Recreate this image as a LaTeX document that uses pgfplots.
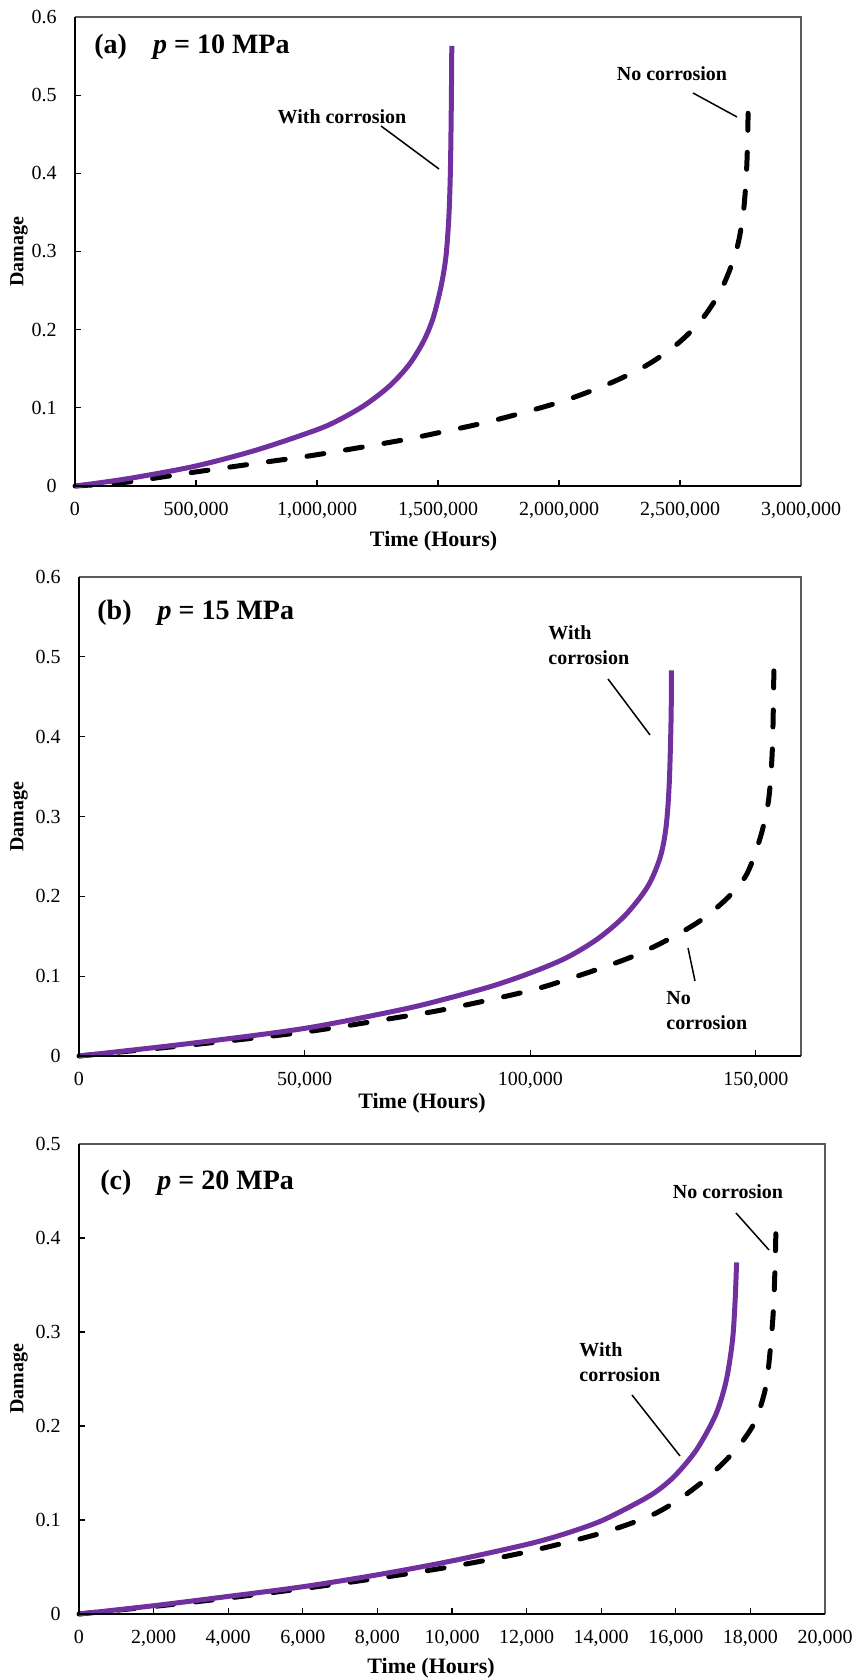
\documentclass[border=0pt]{standalone}
\usepackage{fontspec}
\setmainfont{Liberation Serif}
\usepackage{pgfplots}
\pgfplotsset{compat=1.18}
\definecolor{corr}{RGB}{112,48,160}
\definecolor{bord}{RGB}{90,90,90}
\pgfplotsset{
  dmg/.style={
    scale only axis,
    clip=false,
    tick align=inside,
    xtick pos=bottom, ytick pos=left,
    major tick length=3pt,
    tick style={black, line width=0.6pt},
    axis line style={draw=none},
    ticklabel style={font=\fontsize{10}{12}\selectfont},
    /pgf/number format/assume math mode=true,
    scaled x ticks=false, scaled y ticks=false,
    x tick label style={/pgf/number format/fixed, /pgf/number format/1000 sep={,}},
    y tick label style={/pgf/number format/fixed},
    yticklabel style={xshift=-5.7pt},
    xticklabel style={yshift=-4.8pt},
    ylabel style={font=\fontsize{10}{12}\selectfont\bfseries},
    xlabel style={font=\fontsize{11}{13}\selectfont\bfseries},
    ymin=0,
  },
}
\tikzset{
  wc/.style={corr, line width=2.5pt, line join=round, smooth, tension=0.5},
  nc/.style={black, line width=2.5pt, line cap=round, line join=round, dash pattern=on 8.5pt off 11pt, smooth, tension=0.5},
  lead/.style={black, line width=0.75pt},
  ann/.style={font=\fontsize{10}{12}\selectfont\bfseries, inner sep=0pt},
}
\newcommand{\axbox}{%
  \draw[bord, line width=0.6pt] (rel axis cs:0,1) -- (rel axis cs:1,1) -- (rel axis cs:1,0);
  \draw[black, line width=0.75pt] (rel axis cs:0,1) -- (rel axis cs:0,0) -- (rel axis cs:1,0);
}
\begin{document}
\begin{tikzpicture}
\useasboundingbox (0,0) rectangle (429pt,840pt);

% ---------------- (a) ----------------
\begin{axis}[dmg,
  at={(37.5pt,597pt)}, anchor=south west,
  width=363pt, height=234.5pt,
  xmin=0, xmax=3000000, ymax=0.6,
  xtick={0,500000,1000000,1500000,2000000,2500000,3000000},
  ytick={0,0.1,0.2,0.3,0.4,0.5,0.6},
  xlabel={Time (Hours)}, ylabel={Damage},
  xlabel style={at={(axis description cs:0.494,0)}, anchor=center, yshift=-27.5pt},
  ylabel style={at={(axis description cs:-0.0771,0.5)}, anchor=center},
]
\addplot[nc] coordinates {
(0,0) (190000,0.004) (350000,0.011) (500000,0.018) (750000,0.029) (1000000,0.040)
(1340000,0.058) (1500000,0.068) (1720000,0.083) (2000000,0.107) (2200000,0.130)
(2360000,0.154) (2490000,0.182) (2590000,0.213) (2670000,0.251) (2730000,0.298)
(2760000,0.345) (2774000,0.397) (2780000,0.45) (2782000,0.50)};
\addplot[wc] coordinates {
(0,0) (100000,0.004) (250000,0.011) (500000,0.0256) (750000,0.046) (1000000,0.072)
(1100000,0.086) (1200000,0.104) (1300000,0.128) (1380000,0.155) (1440000,0.185)
(1480000,0.215) (1513000,0.256) (1533000,0.294) (1545000,0.345) (1551000,0.40)
(1554000,0.46) (1556000,0.52) (1557000,0.563)};
\axbox
\end{axis}

% ---------------- (b) ----------------
\begin{axis}[dmg,
  at={(39.5pt,312pt)}, anchor=south west,
  width=361pt, height=239.5pt,
  xmin=0, xmax=160000, ymax=0.6,
  xtick={0,50000,100000,150000},
  ytick={0,0.1,0.2,0.3,0.4,0.5,0.6},
  xlabel={Time (Hours)}, ylabel={Damage},
  xlabel style={at={(axis description cs:0.475,0)}, anchor=center, yshift=-23.5pt},
  ylabel style={at={(axis description cs:-0.0831,0.5)}, anchor=center},
]
\addplot[nc] coordinates {
(0,0) (25000,0.014) (50000,0.030) (71400,0.049) (81600,0.059) (100000,0.082)
(112000,0.103) (122400,0.124) (130600,0.146) (137800,0.170) (143900,0.199)
(148000,0.228) (151000,0.274) (152800,0.32) (153600,0.378) (153900,0.446) (154000,0.497)};
\addplot[wc] coordinates {
(0,0) (25000,0.016) (50000,0.0346) (71400,0.058) (81600,0.072) (91800,0.088)
(100000,0.104) (108000,0.123) (115000,0.147) (121000,0.176) (126000,0.212)
(128800,0.249) (130100,0.287) (130800,0.341) (131200,0.42) (131300,0.483)};
\axbox
\end{axis}

% ---------------- (c) ----------------
\begin{axis}[dmg,
  at={(39.5pt,33pt)}, anchor=south west,
  width=373pt, height=235pt,
  xmin=0, xmax=20000, ymax=0.5,
  xtick={0,2000,4000,6000,8000,10000,12000,14000,16000,18000,20000},
  ytick={0,0.1,0.2,0.3,0.4,0.5},
  xlabel={Time (Hours)}, ylabel={Damage},
  xlabel style={at={(axis description cs:0.472,0)}, anchor=center, yshift=-27pt},
  ylabel style={at={(axis description cs:-0.0804,0.5)}, anchor=center},
]
\addplot[nc] coordinates {
(0,0) (2000,0.008) (4000,0.017) (6000,0.027) (8000,0.038) (10000,0.0505)
(12000,0.066) (14000,0.086) (15290,0.104) (16050,0.121) (16820,0.144)
(17450,0.168) (17830,0.186) (18150,0.207) (18410,0.241) (18530,0.28)
(18620,0.326) (18670,0.383) (18690,0.423)};
\addplot[wc] coordinates {
(0,0) (2000,0.0088) (4000,0.0187) (6000,0.029) (8000,0.0417) (10000,0.0565)
(12000,0.074) (13000,0.085) (14000,0.099) (15000,0.119) (15500,0.131) (16000,0.148)
(16560,0.175) (17070,0.212) (17350,0.248) (17520,0.291) (17590,0.333) (17630,0.374)};
\axbox
\end{axis}

% ---------------- panel titles ----------------
\node[anchor=west, inner sep=0pt, font=\fontsize{14}{16}\selectfont\bfseries] at (47pt,816.5pt) {(a)\hspace{13pt}\textit{p} = 10 MPa};
\node[anchor=west, inner sep=0pt, font=\fontsize{14}{16}\selectfont\bfseries] at (48.5pt,533.5pt) {(b)\hspace{13pt}\textit{p} = 15 MPa};
\node[anchor=west, inner sep=0pt, font=\fontsize{14}{16}\selectfont\bfseries] at (50pt,248.5pt) {(c)\hspace{13pt}\textit{p} = 20 MPa};

% ---------------- annotations ----------------
\node[ann] at (171pt,781.5pt) {With corrosion};
\draw[lead] (190.5pt,777pt) -- (219.5pt,755.5pt);
\node[ann] at (336pt,803pt) {No corrosion};
\draw[lead] (346.5pt,793.5pt) -- (368.5pt,781.5pt);

\node[ann, anchor=west] at (274pt,523.5pt) {With};
\node[ann, anchor=west] at (274pt,511pt) {corrosion};
\draw[lead] (304pt,500.5pt) -- (325pt,472.5pt);
\node[ann, anchor=west] at (333pt,341pt) {No};
\node[ann, anchor=west] at (333pt,328.5pt) {corrosion};
\draw[lead] (344pt,366pt) -- (347.5pt,349.5pt);

\node[ann] at (364pt,244pt) {No corrosion};
\draw[lead] (368pt,233.5pt) -- (384.5pt,215pt);
\node[ann, anchor=west] at (289.5pt,165pt) {With};
\node[ann, anchor=west] at (289.5pt,152.5pt) {corrosion};
\draw[lead] (316pt,142.5pt) -- (340pt,112pt);
\end{tikzpicture}
\end{document}
